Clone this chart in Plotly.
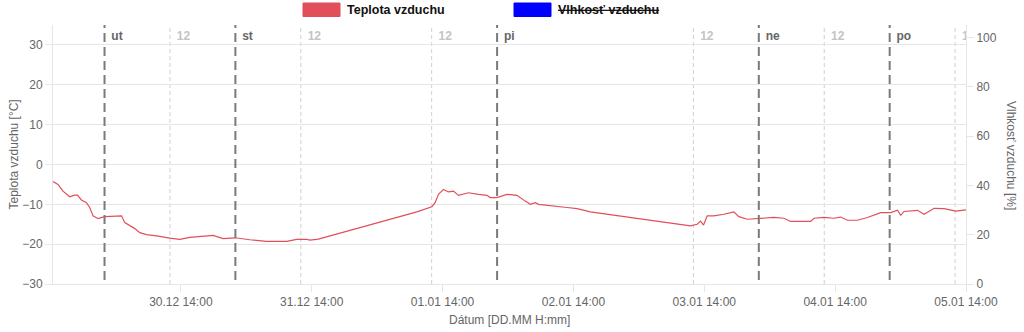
import plotly.graph_objects as go
import pandas as pd

# ---- data ----
times = [
    "2025-12-29 14:33", "2025-12-29 15:28", "2025-12-29 16:23", "2025-12-29 17:37",
    "2025-12-29 18:32", "2025-12-29 19:02", "2025-12-29 19:46", "2025-12-29 20:41",
    "2025-12-29 21:17", "2025-12-29 21:54", "2025-12-29 22:49", "2025-12-30 00:02",
    "2025-12-30 03:07", "2025-12-30 03:43", "2025-12-30 05:33", "2025-12-30 06:28",
    "2025-12-30 07:42", "2025-12-30 09:32", "2025-12-30 11:59", "2025-12-30 13:49",
    "2025-12-30 15:39", "2025-12-30 19:56", "2025-12-30 21:46", "2025-12-30 23:55",
    "2025-12-31 02:40", "2025-12-31 05:07", "2025-12-31 05:44", "2025-12-31 09:25",
    "2025-12-31 11:15", "2025-12-31 13:05", "2025-12-31 13:41", "2025-12-31 15:13",
    "2026-01-01 09:17", "2026-01-01 12:02", "2026-01-01 12:38", "2026-01-01 13:15",
    "2026-01-01 14:10", "2026-01-01 15:05", "2026-01-01 16:00", "2026-01-01 16:55",
    "2026-01-01 18:45", "2026-01-01 20:35", "2026-01-01 22:08", "2026-01-01 22:44",
    "2026-01-01 23:58", "2026-01-02 01:48", "2026-01-02 03:38", "2026-01-02 05:10",
    "2026-01-02 06:05", "2026-01-02 07:00", "2026-01-02 07:37", "2026-01-02 12:50",
    "2026-01-02 14:40", "2026-01-02 17:06", "2026-01-02 22:37", "2026-01-03 09:02",
    "2026-01-03 11:28", "2026-01-03 12:42", "2026-01-03 13:18", "2026-01-03 13:52",
    "2026-01-03 14:32", "2026-01-03 15:45", "2026-01-03 17:35", "2026-01-03 19:25",
    "2026-01-03 20:20", "2026-01-03 21:53", "2026-01-04 00:20", "2026-01-04 02:46",
    "2026-01-04 04:36", "2026-01-04 05:50", "2026-01-04 09:31", "2026-01-04 10:07",
    "2026-01-04 11:57", "2026-01-04 13:47", "2026-01-04 15:01", "2026-01-04 16:14",
    "2026-01-04 18:05", "2026-01-04 19:55", "2026-01-04 22:22", "2026-01-05 00:11",
    "2026-01-05 01:25", "2026-01-05 02:02", "2026-01-05 02:38", "2026-01-05 05:06",
    "2026-01-05 06:19", "2026-01-05 07:10", "2026-01-05 08:09", "2026-01-05 09:59",
    "2026-01-05 12:08", "2026-01-05 13:58", "2026-01-05 14:17",
]
temperature = [
    -4.3, -5.0, -6.7, -8.1,
    -7.7, -7.7, -8.9, -9.6,
    -10.8, -12.9, -13.6, -13.1,
    -12.9, -14.6, -16.1, -17.1,
    -17.6, -17.9, -18.5, -18.8,
    -18.3, -17.8, -18.6, -18.4,
    -18.9, -19.1, -19.3, -19.3,
    -18.8, -18.8, -19.0, -18.75,
    -11.9, -10.6, -9.6, -7.5,
    -6.25, -6.9, -6.7, -7.75,
    -7.1, -7.5, -7.75, -8.3,
    -8.3, -7.5, -7.75, -9.2,
    -10.0, -9.6, -10.0, -10.8,
    -11.1, -11.9, -12.9, -14.8,
    -15.4, -15.0, -14.2, -15.2,
    -12.9, -12.9, -12.5, -11.9,
    -13.1, -13.75, -13.6, -13.3,
    -13.5, -14.3, -14.3, -13.5,
    -13.3, -13.5, -13.2, -14.0,
    -14.0, -13.3, -12.1, -12.1,
    -11.5, -12.75, -11.8, -11.5,
    -12.5, -11.8, -11.0, -11.1,
    -11.7, -11.4, -11.5,
]

x_range = ["2025-12-29 14:33", "2026-01-05 14:00"]
x_tickvals = ["2025-12-30 14:00", "2025-12-31 14:00", "2026-01-01 14:00",
              "2026-01-02 14:00", "2026-01-03 14:00", "2026-01-04 14:00",
              "2026-01-05 14:00"]
x_ticktext = ["30.12 14:00", "31.12 14:00", "01.01 14:00", "02.01 14:00",
              "03.01 14:00", "04.01 14:00", "05.01 14:00"]

day_lines = ["2025-12-30 00:00", "2025-12-31 00:00", "2026-01-02 00:00",
             "2026-01-04 00:00", "2026-01-05 00:00"]
day_labels = ["ut", "st", "pi", "ne", "po"]
noon_lines = ["2025-12-30 12:00", "2025-12-31 12:00", "2026-01-01 12:00",
              "2026-01-03 12:00", "2026-01-04 12:00", "2026-01-05 12:00"]
noon_labels = ["12", "12", "12", "12", "12", "12"]

left_range = [-30, 35]
left_ticks = [-30, -20, -10, 0, 10, 20, 30]
right_range = [0, 105]
right_ticks = [0, 20, 40, 60, 80, 100]

FONT = "Liberation Sans, Arial, Helvetica, sans-serif"
TICK_C = "#666666"
GRID_C = "#e6e6e6"
RED = "#e04f5a"


def shift(ts, minutes):
    return (pd.Timestamp(ts) + pd.Timedelta(minutes=minutes)).strftime("%Y-%m-%d %H:%M")


fig = go.Figure()

fig.add_trace(go.Scatter(
    x=times, y=temperature, mode="lines",
    line=dict(color=RED, width=1.2),
    showlegend=False, hoverinfo="skip",
))

# empty humidity axis holder (dataset hidden in the reference)
fig.add_trace(go.Scatter(
    x=[x_range[0]], y=[None], yaxis="y2", mode="lines",
    showlegend=False, hoverinfo="skip",
))

shapes = []
for d in day_lines:
    shapes.append(dict(type="line", xref="x", yref="paper", x0=d, x1=d, y0=0.015, y1=1,
                       line=dict(color="#7a7a7a", width=2, dash="9px,5px"), layer="above"))
for d in noon_lines:
    shapes.append(dict(type="line", xref="x", yref="paper", x0=d, x1=d, y0=0, y1=1,
                       line=dict(color="#d0d0d0", width=1, dash="4px,3px"), layer="below"))

W, H = 913.0, 259.0


def px_x(p):
    return (p - 53) / W


def px_y(p):
    return (284 - p) / H


shapes.append(dict(type="rect", xref="paper", yref="paper",
                   x0=px_x(303), x1=px_x(340), y0=px_y(16.5), y1=px_y(3),
                   fillcolor=RED, line=dict(color=RED, width=1)))
shapes.append(dict(type="rect", xref="paper", yref="paper",
                   x0=px_x(514), x1=px_x(551), y0=px_y(16.5), y1=px_y(3),
                   fillcolor="#0000ff", line=dict(color="#0000ff", width=1)))

title_font = dict(family=FONT, size=12, color=TICK_C)
annotations = [
    dict(text="<b>Teplota vzduchu</b>", xref="paper", yref="paper",
         x=px_x(345), y=px_y(10), xanchor="left", yanchor="middle", showarrow=False,
         font=dict(family=FONT, size=12.5, color="#111111")),
    dict(text="<b>Vlhkosť vzduchu</b>", xref="paper", yref="paper",
         x=px_x(556), y=px_y(10), xanchor="left", yanchor="middle", showarrow=False,
         font=dict(family=FONT, size=12.5, color="#111111", lineposition="through")),
    dict(text="Dátum [DD.MM H:mm]", xref="paper", yref="paper",
         x=0.5, y=px_y(320), xanchor="center", yanchor="middle", showarrow=False,
         font=title_font),
    dict(text="Teplota vzduchu [°C]", xref="paper", yref="paper", textangle=-90,
         x=px_x(13.5), y=px_y(155), xanchor="center", yanchor="middle", showarrow=False,
         font=title_font),
    dict(text="Vlhkosť vzduchu [%]", xref="paper", yref="paper", textangle=90,
         x=px_x(1011), y=px_y(155), xanchor="center", yanchor="middle", showarrow=False,
         font=title_font),
]

fig.add_trace(go.Scatter(
    x=[shift(d, 75) for d in day_lines], y=[32.1] * len(day_lines),
    text=["<b>%s</b>" % t for t in day_labels], mode="text",
    textposition="middle right", cliponaxis=True,
    textfont=dict(family=FONT, size=12, color="#666666"),
    showlegend=False, hoverinfo="skip",
))
fig.add_trace(go.Scatter(
    x=[shift(d, 75) for d in noon_lines], y=[32.1] * len(noon_lines),
    text=["<b>%s</b>" % t for t in noon_labels], mode="text",
    textposition="middle right", cliponaxis=True,
    textfont=dict(family=FONT, size=12, color="#c4c4c4"),
    showlegend=False, hoverinfo="skip",
))

fig.update_layout(
    width=1024, height=332,
    margin=dict(l=53, r=58, t=25, b=48, pad=0, autoexpand=False),
    paper_bgcolor="white", plot_bgcolor="white",
    font=dict(family=FONT, size=12, color=TICK_C),
    shapes=shapes, annotations=annotations,
    showlegend=False,
    xaxis=dict(
        type="date", range=x_range, tickvals=x_tickvals, ticktext=x_ticktext,
        showgrid=False, zeroline=False, showline=True, linecolor=GRID_C, linewidth=1,
        ticks="outside", ticklen=7, tickcolor=GRID_C, automargin=False,
        tickfont=dict(family=FONT, size=12, color=TICK_C),
    ),
    yaxis=dict(
        range=left_range, tickvals=left_ticks, showgrid=True, gridcolor=GRID_C,
        zeroline=False, showline=True, linecolor=GRID_C, linewidth=1,
        ticks="outside", ticklen=7, tickcolor=GRID_C, automargin=False,
        tickfont=dict(family=FONT, size=12, color=TICK_C),
    ),
    yaxis2=dict(
        range=right_range, tickvals=right_ticks, overlaying="y", side="right",
        showgrid=False, zeroline=False, showline=True, linecolor=GRID_C, linewidth=1,
        ticks="outside", ticklen=7, tickcolor=GRID_C, automargin=False,
        tickfont=dict(family=FONT, size=12, color=TICK_C),
    ),
)

fig.write_html("out.html")
